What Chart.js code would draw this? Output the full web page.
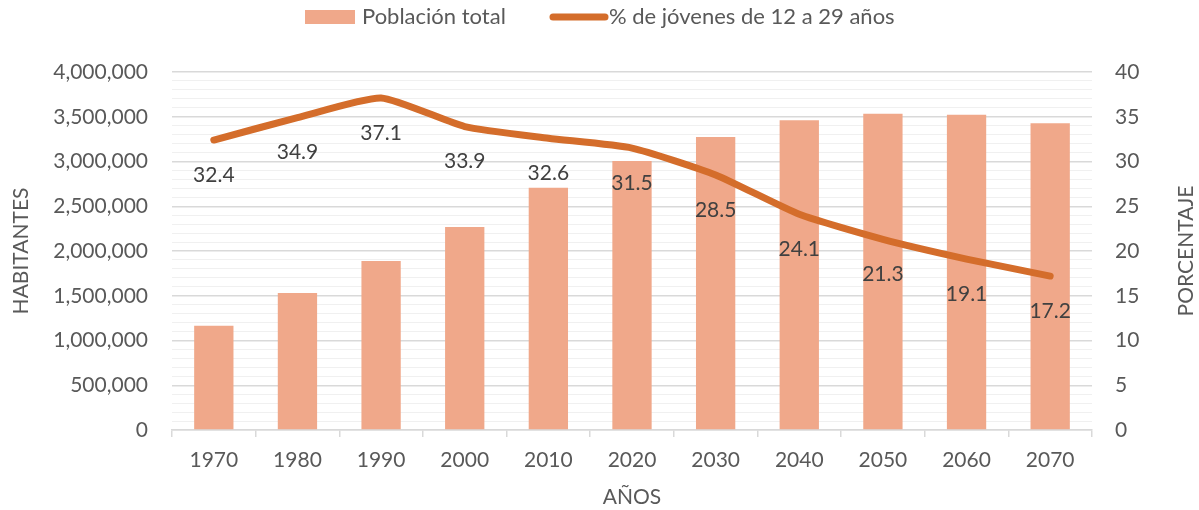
<!DOCTYPE html>
<html>
<head>
<meta charset="utf-8">
<script src="https://cdn.jsdelivr.net/npm/chart.js@4"></script>
<style>
html,body{margin:0;padding:0;background:#fff;}
#wrap{width:1199px;height:510px;position:relative;}
</style>
</head>
<body>
<div id="wrap"><canvas id="c"></canvas></div>
<script>
const years = ['1970','1980','1990','2000','2010','2020','2030','2040','2050','2060','2070'];
const poblacionTotal = [1165000,1531000,1888000,2268000,2707000,3006000,3274000,3460000,3534000,3523000,3427000];
const pctJovenes = [32.4,34.9,37.1,33.9,32.6,31.5,28.5,24.1,21.3,19.1,17.2];
const leftTickStep = 100000;
const leftMajorStep = 500000;
const rightTicks = [0,5,10,15,20,25,30,35,40];

const FONT = 'Lato, "Open Sans", sans-serif';
const TXT = '#595959';
const BAR = '#F0A88A';
const LINE = '#D46D2B';

const fmt = v => v.toLocaleString('en-US');

const dataLabels = {
  id: 'dataLabels',
  afterDatasetsDraw(chart) {
    const ctx = chart.ctx;
    const meta = chart.getDatasetMeta(1);
    ctx.save();
    ctx.font = '21px ' + FONT;
    ctx.fillStyle = '#404040';
    ctx.textAlign = 'center';
    ctx.textBaseline = 'middle';
    meta.data.forEach((pt, i) => {
      ctx.fillText(pctJovenes[i].toFixed(1), pt.x, pt.y + 35);
    });
    ctx.restore();
  }
};

const extras = {
  id: 'extras',
  afterDraw(chart) {
    const ctx = chart.ctx;
    const ds = chart.data.datasets;
    ctx.save();
    ctx.font = '22px ' + FONT;
    ctx.textBaseline = 'middle';
    ctx.textAlign = 'left';
    const ly = 17;
    ctx.fillStyle = BAR;
    ctx.fillRect(305, 10, 50, 14);
    ctx.fillStyle = TXT;
    ctx.fillText(ds[0].label, 362, ly);
    ctx.strokeStyle = LINE;
    ctx.lineWidth = 7;
    ctx.lineCap = 'round';
    ctx.beginPath();
    ctx.moveTo(553, ly);
    ctx.lineTo(605, ly);
    ctx.stroke();
    ctx.fillText(ds[1].label, 609, ly);
    ctx.font = '21px ' + FONT;
    ctx.translate(1186, (chart.chartArea.top + chart.chartArea.bottom) / 2);
    ctx.rotate(-Math.PI / 2);
    ctx.textAlign = 'center';
    ctx.fillText('PORCENTAJE', 0, 0);
    ctx.restore();
  }
};

new Chart(document.getElementById('c'), {
  data: {
    labels: years,
    datasets: [
      {
        type: 'bar',
        label: 'Población total',
        data: poblacionTotal,
        backgroundColor: BAR,
        yAxisID: 'y',
        barPercentage: 0.47,
        categoryPercentage: 1.0,
        order: 2
      },
      {
        type: 'line',
        label: '% de jóvenes de 12 a 29 años',
        data: pctJovenes,
        borderColor: LINE,
        backgroundColor: LINE,
        borderWidth: 7,
        borderCapStyle: 'round',
        borderJoinStyle: 'round',
        tension: 0.18,
        pointRadius: 0,
        yAxisID: 'y2',
        order: 1
      }
    ]
  },
  options: {
    responsive: true,
    maintainAspectRatio: false,
    animation: false,
    layout: { padding: { top: 72, left: 0, right: 0, bottom: 0 } },
    plugins: {
      legend: { display: false },
      tooltip: { enabled: false }
    },
    scales: {
      x: {
        offset: true,
        grid: {
          offset: true,
          drawOnChartArea: false,
          drawTicks: true,
          tickLength: 7,
          color: '#D9D9D9',
          lineWidth: 1.5
        },
        border: { color: '#D9D9D9', width: 1.5 },
        ticks: { color: TXT, font: { family: FONT, size: 21 }, padding: 11, maxRotation: 0 },
        title: { display: true, text: 'AÑOS', color: TXT, font: { family: FONT, size: 21 }, padding: { top: 1, bottom: 0 } },
        afterFit(s) { s.height = 80; }
      },
      y: {
        position: 'left',
        min: 0,
        max: 4000000,
        grid: {
          drawTicks: false,
          color: c => (c.tick && c.tick.value % leftMajorStep === 0) ? '#D9D9D9' : '#F0F0F0',
          lineWidth: c => (c.tick && c.tick.value % leftMajorStep === 0) ? 1.5 : 1
        },
        border: { display: false },
        ticks: {
          stepSize: leftTickStep,
          autoSkip: false,
          padding: 24,
          color: TXT,
          font: { family: FONT, size: 21 },
          callback: v => (v % leftMajorStep === 0) ? fmt(v) : ''
        },
        title: { display: true, text: 'HABITANTES', color: TXT, font: { family: FONT, size: 21 }, padding: { top: 9, bottom: 0 } },
        afterFit(s) { s.width = 172; }
      },
      y2: {
        position: 'right',
        min: 0,
        max: 40,
        grid: { display: false, drawTicks: false },
        border: { display: false },
        afterBuildTicks(s) { s.ticks = rightTicks.map(v => ({ value: v })); },
        ticks: { padding: 23, color: TXT, font: { family: FONT, size: 21 } },
        afterFit(s) { s.width = 107; }
      }
    }
  },
  plugins: [dataLabels, extras]
});
</script>
</body>
</html>
